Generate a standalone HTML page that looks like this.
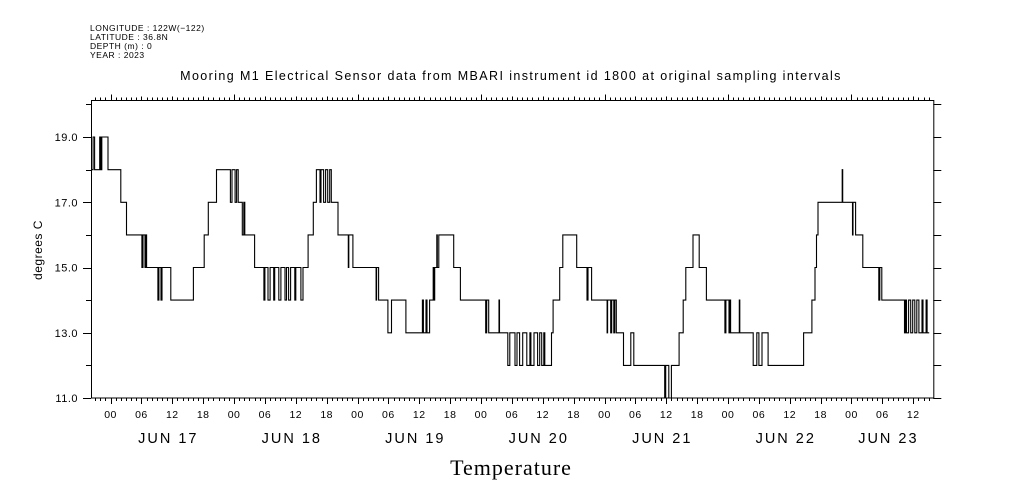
<!DOCTYPE html>
<html><head><meta charset="utf-8">
<style>
html,body{margin:0;padding:0;background:#fff;}
svg{display:block;}
text{font-family:"Liberation Sans",sans-serif;fill:#000;}
</style></head>
<body>
<svg id="chart" width="1009" height="504" viewBox="0 0 1009 504" xmlns="http://www.w3.org/2000/svg">
<g font-size="8.5" letter-spacing="0.5">
<text x="90" y="31">LONGITUDE : 122W(−122)</text>
<text x="90" y="40">LATITUDE : 36.8N</text>
<text x="90" y="49">DEPTH (m) : 0</text>
<text x="90" y="58">YEAR : 2023</text>
</g>
<text x="511" y="80" text-anchor="middle" font-size="12.5" letter-spacing="1.4">Mooring M1 Electrical Sensor data from MBARI instrument id 1800 at original sampling intervals</text>
<text transform="translate(42,250) rotate(-90)" text-anchor="middle" font-size="12" letter-spacing="0.5">degrees C</text>
<text x="511" y="475" text-anchor="middle" font-size="22" style="font-family:'Liberation Serif',serif" letter-spacing="1">Temperature</text>
<g id="axes"></g>
<g id="series"></g>
</svg>
<script>
// hours since JUN 17 00:00
const times = [-3.8,-3.4,-3.1,-2.1,-1.9,-1.7,-0.5,2.0,3.1,6.1,6.3,6.7,6.9,7.0,9.2,9.4,9.8,10.0,11.7,16.1,18.2,19.0,20.6,23.3,23.6,24.2,24.5,24.8,25.6,25.9,26.1,28.0,29.8,30.0,30.6,31.0,31.7,31.9,32.7,33.1,33.9,34.2,34.6,35.0,35.8,36.0,37.0,37.4,38.4,39.4,40.0,40.7,40.9,41.4,41.8,42.2,42.6,42.9,44.2,46.2,46.3,47.1,51.6,51.7,52.1,53.9,54.6,57.4,60.6,60.8,61.3,61.5,62.0,62.7,62.8,63.0,63.4,63.5,63.8,66.7,68.0,72.9,73.1,73.5,75.5,75.6,77.2,77.6,78.6,79.0,79.5,80.1,80.9,81.5,81.7,82.3,83.0,83.4,83.8,84.2,84.4,85.7,86.0,87.3,87.9,90.6,92.6,92.8,93.5,96.5,96.6,97.2,97.4,97.8,98.0,98.3,99.7,101.1,101.7,107.7,107.9,108.5,109.0,110.5,111.3,111.8,113.2,114.4,115.8,119.4,119.6,120.2,120.3,120.5,122.2,122.3,124.9,125.6,126.0,126.6,127.8,134.7,136.3,136.9,137.2,137.5,142.2,142.3,144.2,144.3,144.8,146.2,149.3,149.5,149.9,154.3,154.5,154.7,155.1,155.5,155.9,156.3,156.7,157.1,157.7,157.9,158.5,158.7];
const temps = [18,19,18,19,18,19,18,17,16,15,16,15,16,15,14,15,14,15,14,15,16,17,18,17,18,17,18,17,16,17,16,15,14,15,14,15,14,15,14,15,14,15,14,15,14,15,14,15,16,17,18,17,18,17,18,17,18,17,16,15,16,15,14,15,14,13,14,13,14,13,14,13,14,15,14,15,16,15,16,15,14,13,14,13,14,13,12,13,12,13,12,13,12,13,12,13,12,13,12,13,12,13,14,15,16,15,14,15,14,13,14,13,14,13,14,13,12,13,12,11,12,11,12,13,14,15,16,15,14,13,14,13,14,13,14,13,12,13,12,13,12,13,14,15,16,17,18,17,16,17,16,15,14,15,14,13,14,13,14,13,14,13,14,13,14,13,14,13];
const endTime = 159.1;
const yTickValues = [11,12,13,14,15,16,17,18,19,20];
const yLabelValues = [11,13,15,17,19];
const dayLabels = ["JUN 17","JUN 18","JUN 19","JUN 20","JUN 21","JUN 22","JUN 23"];
const hourLabels = ["00","06","12","18"];

const X0=91, X1=933.3, Y0=398, Y1=100.5;
const tMin=-3.8, tMax=159.9, vMin=11, vMax=20.12;
const xs = t => X0 + (t - tMin)/(tMax - tMin)*(X1 - X0);
const ys = v => Y0 - (v - vMin)/(vMax - vMin)*(Y0 - Y1);
const NS="http://www.w3.org/2000/svg";
const axes=document.getElementById('axes');
function el(tag, attrs, parent){const e=document.createElementNS(NS,tag);for(const k in attrs)e.setAttribute(k,attrs[k]);parent.appendChild(e);return e;}

const frame=el('rect',{x:X0+0.5,y:Y1,width:X1-X0,height:Y0-Y1,fill:'none',stroke:'#000','stroke-width':1},axes);



yTickValues.forEach(v=>{
  if(v>vMax) return;
  const y=Math.round(ys(v))+0.5;
  const major=yLabelValues.includes(v);
  const tl=el('line',{x1:X0-(major?8:5),x2:X0,y1:y,y2:y,stroke:'#000'},axes);
  
  
  const tr=el('line',{x1:X1,x2:X1+8,y1:y,y2:y,stroke:'#000'},axes);
  
  
});
yLabelValues.forEach(v=>{
  const t=el('text',{x:X0-13,y:ys(v)+4,'text-anchor':'end','font-size':11,'letter-spacing':0.5},axes);
  t.textContent=v.toFixed(1);
  
  
});

for(let h=Math.ceil(tMin); h<=tMax; h++){
  const x=Math.round(xs(h))+0.5;
  const major=(h%6===0);
  const bt=el('line',{x1:x,x2:x,y1:Y0,y2:Y0+(major?6:3),stroke:'#000'},axes);
  
  
  const tt=el('line',{x1:x,x2:x,y1:Y1,y2:Y1-(h%24===0?6:(major?4:3)),stroke:'#000'},axes);
  
  
  if(major){
    const lbl=el('text',{x:xs(h),y:Y0+20,'text-anchor':'middle','font-size':10.5,'letter-spacing':0.5},axes);
    lbl.textContent=hourLabels[((h%24)+24)%24/6];
    
    
  }
}
dayLabels.forEach((d,i)=>{
  const a=Math.max(i*24,tMin), b=Math.min(i*24+24,tMax);
  const cx=(xs(a)+xs(b))/2-4;
  const lbl=el('text',{x:cx,y:Y0+45,'text-anchor':'middle','font-size':14.5,'letter-spacing':2},axes);
  lbl.textContent=d;
  
  
});

let d='M'+xs(times[0]).toFixed(1)+','+ys(temps[0]).toFixed(1);
for(let i=1;i<times.length;i++){
  d+=' H'+xs(times[i]).toFixed(1)+' V'+ys(temps[i]).toFixed(1);
}
d+=' H'+xs(endTime).toFixed(1);
const line=el('path',{d:d,fill:'none',stroke:'#000','stroke-width':1.1},document.getElementById('series'));


</script>
</body></html>
